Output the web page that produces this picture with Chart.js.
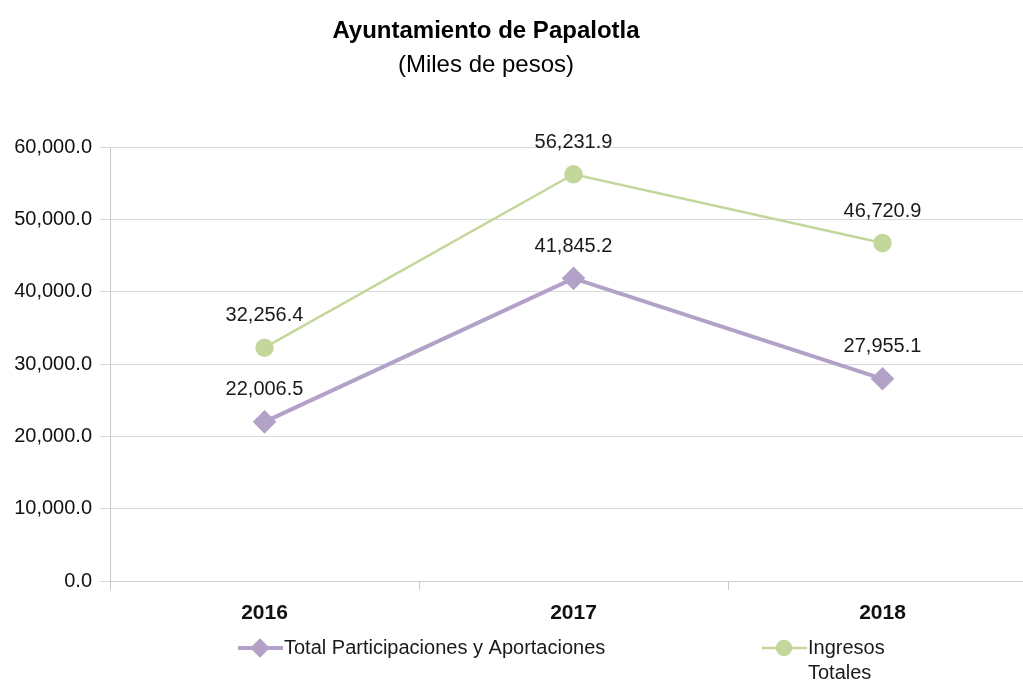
<!DOCTYPE html>
<html>
<head>
<meta charset="utf-8">
<script src="https://cdn.jsdelivr.net/npm/chart.js@4.4.0/dist/chart.umd.min.js"></script>
<style>
  html, body { margin: 0; padding: 0; background: #fff; overflow: hidden; }
  #wrap { position: relative; width: 1023px; height: 685px; overflow: hidden; }
  #myChart { position: absolute; left: 0; top: 0; }
  .ttl { position: absolute; left: 0; width: 972px; text-align: center; color: #000;
         font-family: 'Liberation Sans Narrow', 'Arial Narrow', 'Liberation Sans', sans-serif; }
</style>
</head>
<body>
<div id="wrap">
  <canvas id="myChart" width="1050" height="685"></canvas>
  <div class="ttl" style="top:16px;font-size:24px;font-weight:bold;">Ayuntamiento de Papalotla</div>
  <div class="ttl" style="top:50px;font-size:24px;">(Miles de pesos)</div>
</div>
<script>
var years = ["2016", "2017", "2018"];
var participaciones = [22006.5, 41845.2, 27955.1];
var ingresos = [32256.4, 56231.9, 46720.9];
var yTicks = [0, 10000, 20000, 30000, 40000, 50000, 60000];

var FONT = "'Liberation Sans Narrow', 'Arial Narrow', 'Liberation Sans', sans-serif";

function fmt(v) {
	return v.toLocaleString('en-US', {minimumFractionDigits: 1, maximumFractionDigits: 1});
}

// value labels above each point
var labelsPlugin = {
	id: 'pointLabels',
	afterDatasetsDraw: function(chart) {
		var ctx = chart.ctx;
		ctx.save();
		ctx.font = '20px ' + FONT;
		ctx.fillStyle = '#1a1a1a';
		ctx.textAlign = 'center';
		ctx.textBaseline = 'middle';
		chart.data.datasets.forEach(function(ds, i) {
			chart.getDatasetMeta(i).data.forEach(function(pt, j) {
				ctx.fillText(fmt(ds.data[j]), pt.x, pt.y - 32);
			});
		});
		ctx.restore();
	}
};

// bottom legend, drawn by hand so the second label can wrap
var legendPlugin = {
	id: 'bottomLegend',
	afterDraw: function(chart) {
		var ctx = chart.ctx;
		var items = [
			{ds: chart.data.datasets[0], x: 238, lines: ["Total Participaciones y Aportaciones"]},
			{ds: chart.data.datasets[1], x: 762, lines: ["Ingresos", "Totales"]}
		];
		ctx.save();
		items.forEach(function(it) {
			var y = 648;
			ctx.strokeStyle = it.ds.borderColor;
			ctx.lineWidth = it.ds.borderWidth;
			ctx.beginPath();
			ctx.moveTo(it.x, y);
			ctx.lineTo(it.x + 45, y);
			ctx.stroke();
			ctx.fillStyle = it.ds.pointBackgroundColor;
			ctx.strokeStyle = it.ds.pointBackgroundColor;
			Chart.helpers.drawPoint(ctx, {pointStyle: it.ds.pointStyle, radius: 7, borderWidth: 1}, it.x + 22, y);
			ctx.fillStyle = '#1a1a1a';
			ctx.font = '20px ' + FONT;
			ctx.textAlign = 'left';
			ctx.textBaseline = 'middle';
			it.lines.forEach(function(t, k) {
				ctx.fillText(t, it.x + 46, y + k * 25);
			});
		});
		ctx.restore();
	}
};

var ctx = document.getElementById("myChart").getContext('2d');
var myChart = new Chart(ctx, {
	type: 'line',
	data: {
		labels: years,
		datasets: [{
			label: 'Total Participaciones y Aportaciones',
			data: participaciones,
			borderColor: '#b3a2c7',
			backgroundColor: '#b3a2c7',
			pointBackgroundColor: '#b3a2c7',
			pointBorderColor: '#b3a2c7',
			borderWidth: 4,
			pointStyle: 'rectRot',
			pointRadius: 9,
			tension: 0
		}, {
			label: 'Ingresos Totales',
			data: ingresos,
			borderColor: '#c3d69b',
			backgroundColor: '#c3d69b',
			pointBackgroundColor: '#c3d69b',
			pointBorderColor: '#c3d69b',
			borderWidth: 2.5,
			pointStyle: 'circle',
			pointRadius: 8,
			tension: 0
		}]
	},
	options: {
		responsive: false,
		animation: false,
		layout: {
			padding: {left: 0, right: 7, top: 147, bottom: 0}
		},
		plugins: {
			legend: {display: false},
			title: {display: false},
			tooltip: {enabled: false}
		},
		scales: {
			x: {
				offset: true,
				grid: {
					offset: true,
					drawOnChartArea: false,
					drawTicks: true,
					tickLength: 9,
					color: '#c8c8c8'
				},
				border: {display: true, color: '#d0d0d0'},
				ticks: {
					color: '#111',
					padding: 11,
					font: {family: FONT, size: 21, weight: 'bold'}
				},
				afterFit: function(scale) { scale.height = 104; }
			},
			y: {
				min: 0,
				max: 60000,
				afterBuildTicks: function(scale) {
					scale.ticks = yTicks.map(function(v) { return {value: v}; });
				},
				grid: {
					color: '#d9d9d9',
					lineWidth: 1,
					tickLength: 10
				},
				border: {display: true, color: '#c8c8c8'},
				ticks: {
					color: '#111',
					padding: 8,
					font: {family: FONT, size: 20},
					callback: function(v) { return fmt(v); }
				},
				afterFit: function(scale) { scale.width = 110; }
			}
		}
	},
	plugins: [labelsPlugin, legendPlugin]
});
</script>
</body>
</html>
